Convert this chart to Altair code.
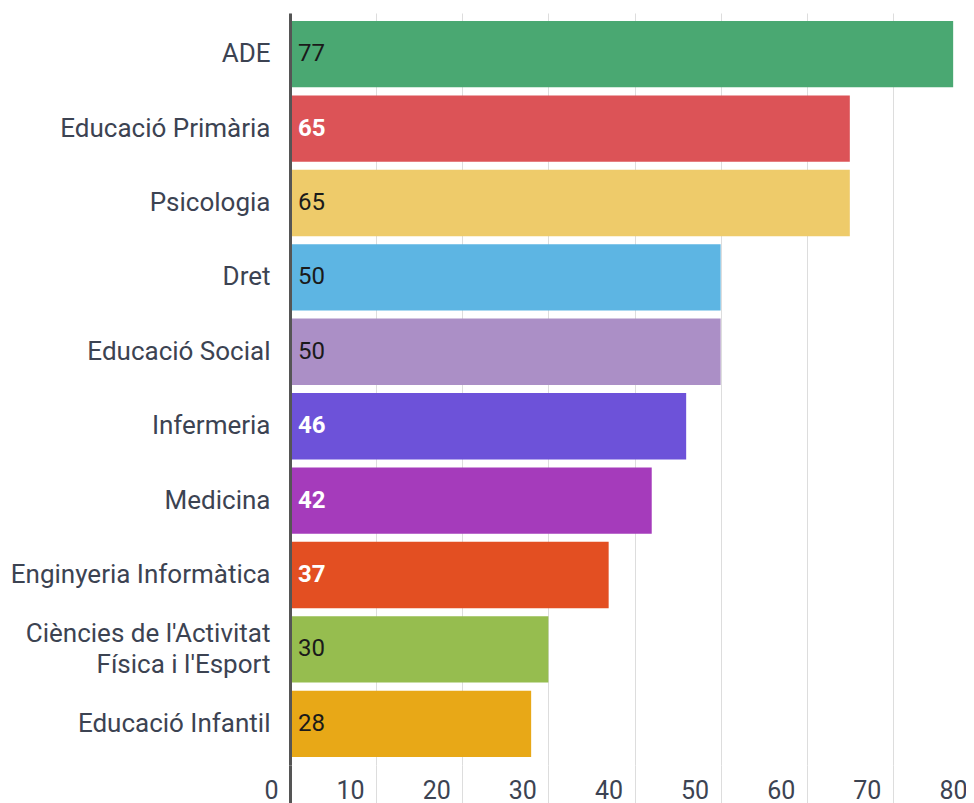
import altair as alt
import pandas as pd

categories = ["ADE", "Educació Primària", "Psicologia", "Dret", "Educació Social",
              "Infermeria", "Medicina", "Enginyeria Informàtica",
              "Ciències de l'Activitat\nFísica i l'Esport", "Educació Infantil"]
values = [77, 65, 65, 50, 50, 46, 42, 37, 30, 28]
bar_colors = ["#4aa872", "#dc5357", "#eecb6a", "#5db5e3", "#ab8fc6",
              "#6d52d9", "#a53bbb", "#e34f22", "#96bd4f", "#e8a817"]
white_label_cats = ["Educació Primària", "Infermeria", "Medicina", "Enginyeria Informàtica"]
x_ticks = [0, 10, 20, 30, 40, 50, 60, 70, 80]

df = pd.DataFrame({"cat": categories, "val": values})

FONT = "Roboto"
LABEL_COLOR = "#3c4352"

y_enc = alt.Y("cat:N", sort=categories, title=None,
              scale=alt.Scale(paddingInner=0.108, paddingOuter=0.1075),
              axis=alt.Axis(labelFontSize=26, labelFontWeight="normal", labelColor=LABEL_COLOR,
                            labelFont=FONT, labelPadding=20, labelLimit=0, ticks=False,
                            labelLineHeight=31,
                            labelExpr="split(datum.label, '\\n')",
                            labelOffset={"condition": {"test": "indexof(datum.value, '\\n') >= 0", "value": -15.5}, "value": 0},
                            domainColor="#555555", domainWidth=3, zindex=1))
x_enc = alt.X("val:Q", title=None,
              scale=alt.Scale(domain=[0, 80], range=[0, 689], nice=False),
              axis=alt.Axis(values=x_ticks, labelFontSize=25, labelFontWeight="normal",
                            labelColor=LABEL_COLOR, labelFont=FONT, labelAlign="right",
                            labelOffset=-12, labelBaseline="middle", labelPadding=-13,
                            tickSize=38,
                            tickColor={"condition": {"test": "datum.value === 0", "value": "#555555"}, "value": "#dddddd"},
                            tickWidth={"condition": {"test": "datum.value === 0", "value": 3}, "value": 1},
                            gridColor="#dddddd", gridWidth=1, domain=False))

bars = alt.Chart(df).mark_bar().encode(
    y=y_enc, x=x_enc,
    color=alt.Color("cat:N", scale=alt.Scale(domain=categories, range=bar_colors), legend=None),
)

text_dark = alt.Chart(df).transform_filter(
    ~alt.FieldOneOfPredicate(field="cat", oneOf=white_label_cats)
).mark_text(align="left", dx=8, fontSize=24, font=FONT, color="#1a1a1a", baseline="middle").encode(
    y=alt.Y("cat:N", sort=categories), x=alt.value(0), text="val:Q")

text_white = alt.Chart(df).transform_filter(
    alt.FieldOneOfPredicate(field="cat", oneOf=white_label_cats)
).mark_text(align="left", dx=8, fontSize=24, font=FONT, fontWeight="bold", color="white", baseline="middle").encode(
    y=alt.Y("cat:N", sort=categories), x=alt.value(0), text="val:Q")

chart = alt.layer(bars, text_dark, text_white).properties(
    width=676, height=752,
    autosize=alt.AutoSizeParams(type="none"),
    padding={"left": 282, "top": 5, "right": 0, "bottom": 38},
).configure_view(stroke=None).configure_axis(gridColor="#dddddd")

chart.save("out.html", embed_options={"renderer": "svg", "actions": False})
